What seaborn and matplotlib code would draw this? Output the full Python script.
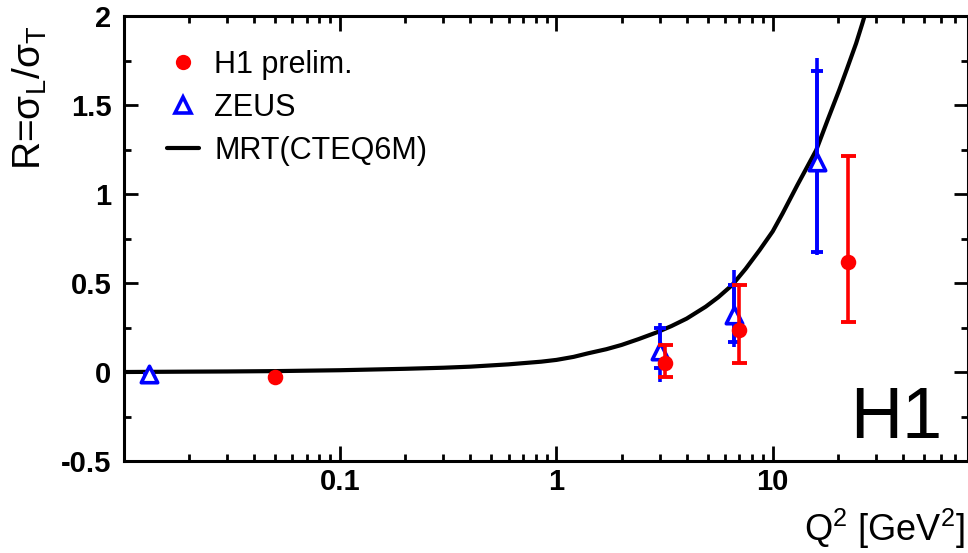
import numpy as np
import pandas as pd
import matplotlib
matplotlib.use("Agg")
import matplotlib.pyplot as plt
import seaborn as sns
from matplotlib.lines import Line2D
from matplotlib.ticker import FixedLocator, NullFormatter

# ---------------- data ----------------
h1_q2 = [0.05, 3.18, 7.0, 22.4]
h1_r = [-0.03, 0.052, 0.236, 0.62]
h1_err_lo = [0.0, 0.078, 0.184, 0.341]
h1_err_hi = [0.0, 0.100, 0.253, 0.593]

zeus_q2 = [0.013, 3.0, 6.6, 16.1]
zeus_r = [-0.01, 0.119, 0.32, 1.177]
zeus_stat_lo = [0.0, 0.095, 0.15, 0.501]
zeus_stat_hi = [0.0, 0.131, 0.17, 0.516]
zeus_tot_lo = [0.0, 0.173, 0.178, 0.520]
zeus_tot_hi = [0.0, 0.155, 0.253, 0.585]

mrt_q2 = [0.01, 0.02, 0.03, 0.05, 0.1, 0.2, 0.3, 0.4, 0.6, 0.85, 1.0, 1.2,
          1.4, 1.7, 2.0, 2.4, 2.9, 3.4, 4.0, 4.9, 5.6, 6.5, 7.5, 8.7, 10.0,
          11.1, 13.0, 15.9, 18.0, 20.3, 22.0, 24.3, 26.0, 27.5]
mrt_r = [0.0, 0.002, 0.003, 0.005, 0.010, 0.018, 0.024, 0.030, 0.043, 0.058,
         0.068, 0.085, 0.105, 0.128, 0.152, 0.185, 0.222, 0.258, 0.300,
         0.367, 0.420, 0.489, 0.580, 0.685, 0.790, 0.890, 1.050, 1.247,
         1.420, 1.584, 1.700, 1.846, 1.960, 2.06]

x_major = [0.1, 1, 10]
x_major_labels = ["0.1", "1", "10"]
y_major = [-0.5, 0, 0.5, 1, 1.5, 2]
y_major_labels = ["-0.5", "0", "0.5", "1", "1.5", "2"]

legend_labels = ["H1 prelim.", "ZEUS", "MRT(CTEQ6M)"]

# ---------------- style ----------------
sns.set_theme(style="ticks")
plt.rcParams["font.family"] = ["Liberation Sans", "DejaVu Sans"]
plt.rcParams["mathtext.fontset"] = "custom"
plt.rcParams["mathtext.rm"] = "Liberation Sans"
plt.rcParams["mathtext.it"] = "Liberation Sans:italic"
plt.rcParams["mathtext.bf"] = "Liberation Sans:bold"
plt.rcParams["text.color"] = "black"
plt.rcParams["axes.labelcolor"] = "black"
plt.rcParams["xtick.color"] = "black"
plt.rcParams["ytick.color"] = "black"

RED = "#ff0000"
BLUE = "#0000ff"

fig = plt.figure(figsize=(9.68, 5.53), dpi=100)
fig.patch.set_facecolor("white")
ax = fig.add_axes([124 / 968, 1 - 461 / 553, (968 - 124) / 968, (461 - 16) / 553])
ax.set_facecolor("white")

mrt_df = pd.DataFrame({"Q2": mrt_q2, "R": mrt_r})
h1_df = pd.DataFrame({"Q2": h1_q2, "R": h1_r})
zeus_df = pd.DataFrame({"Q2": zeus_q2, "R": zeus_r})

# curve
sns.lineplot(data=mrt_df, x="Q2", y="R", color="black", lw=3.0, ax=ax,
             zorder=2, sort=True, estimator=None)

# ZEUS error bars: total (no caps) + stat (caps)
ax.errorbar(zeus_q2, zeus_r, yerr=[zeus_tot_lo, zeus_tot_hi], fmt="none",
            ecolor=BLUE, elinewidth=2.6, capsize=0, zorder=3)
ax.errorbar(zeus_q2, zeus_r, yerr=[zeus_stat_lo, zeus_stat_hi], fmt="none",
            ecolor=BLUE, elinewidth=2.6, capsize=4.3, capthick=2.8, zorder=3)
sns.scatterplot(data=zeus_df, x="Q2", y="R", marker="^", s=140,
                facecolor="white", edgecolor=BLUE, linewidth=2.6, ax=ax,
                zorder=4, legend=False)

# H1 error bars
ax.errorbar(h1_q2, h1_r, yerr=[h1_err_lo, h1_err_hi], fmt="none",
            ecolor=RED, elinewidth=2.6, capsize=5.4, capthick=2.8, zorder=5)
sns.scatterplot(data=h1_df, x="Q2", y="R", marker="o", s=125,
                color=RED, edgecolor=RED, linewidth=0, ax=ax, zorder=6,
                legend=False)

# axes
ax.set_xscale("log")
ax.set_xlim(0.01, 80)
ax.set_ylim(-0.5, 2.0)
ax.set_xlabel("")
ax.set_ylabel("")

ax.set_xticks(x_major)
ax.set_xticklabels(x_major_labels)
minors = [m * 10.0 ** e for e in range(-2, 2) for m in range(2, 10)]
ax.xaxis.set_minor_locator(FixedLocator(minors))
ax.xaxis.set_minor_formatter(NullFormatter())
ax.set_yticks(y_major)
ax.set_yticklabels(y_major_labels)
ax.yaxis.set_minor_locator(FixedLocator([-0.25, 0.25, 0.75, 1.25, 1.75]))

for lab in ax.get_xticklabels() + ax.get_yticklabels():
    lab.set_fontweight("bold")
    lab.set_fontsize(21)
    lab.set_color("black")

ax.tick_params(axis="both", which="both", direction="in", top=True,
               right=True, color="black", labelcolor="black")
ax.tick_params(axis="x", which="major", length=11, width=2, pad=5)
ax.tick_params(axis="x", which="minor", length=5, width=2)
ax.tick_params(axis="y", which="major", length=10, width=2, pad=9)
ax.tick_params(axis="y", which="minor", length=5, width=2)

for sp in ax.spines.values():
    sp.set_visible(True)
    sp.set_linewidth(2.2)
    sp.set_color("black")

# legend
handles = [
    Line2D([], [], color=RED, marker="o", linestyle="none", markersize=11,
           markeredgewidth=0),
    Line2D([], [], color=BLUE, marker="^", linestyle="none", markersize=11,
           markerfacecolor="white", markeredgewidth=2.6),
    Line2D([], [], color="black", lw=3.0),
]
leg = ax.legend(handles, legend_labels, loc="upper left",
                bbox_to_anchor=(167 / 968, 1 - 50 / 553),
                bbox_transform=fig.transFigure, frameon=False,
                fontsize=22, handlelength=1.05, handletextpad=0.5,
                labelspacing=0.42, borderpad=0, borderaxespad=0,
                labelcolor="black")

# texts
ax.text(0.97, 0.052, "H1", transform=ax.transAxes, ha="right",
        va="baseline", fontsize=52, color="black")
fig.text(0.997, 12 / 553, r"Q$^{\mathregular{2}}$ [GeV$^{\mathregular{2}}$]",
         ha="right", va="baseline", fontsize=26, color="black")
fig.text(30 / 968, 1 - 98 / 553,
         r"R=σ$_{\mathregular{L}}$/σ$_{\mathregular{T}}$",
         rotation=90, ha="center", va="center", fontsize=28, color="black")

fig.savefig("out.png", dpi=100, facecolor="white")
